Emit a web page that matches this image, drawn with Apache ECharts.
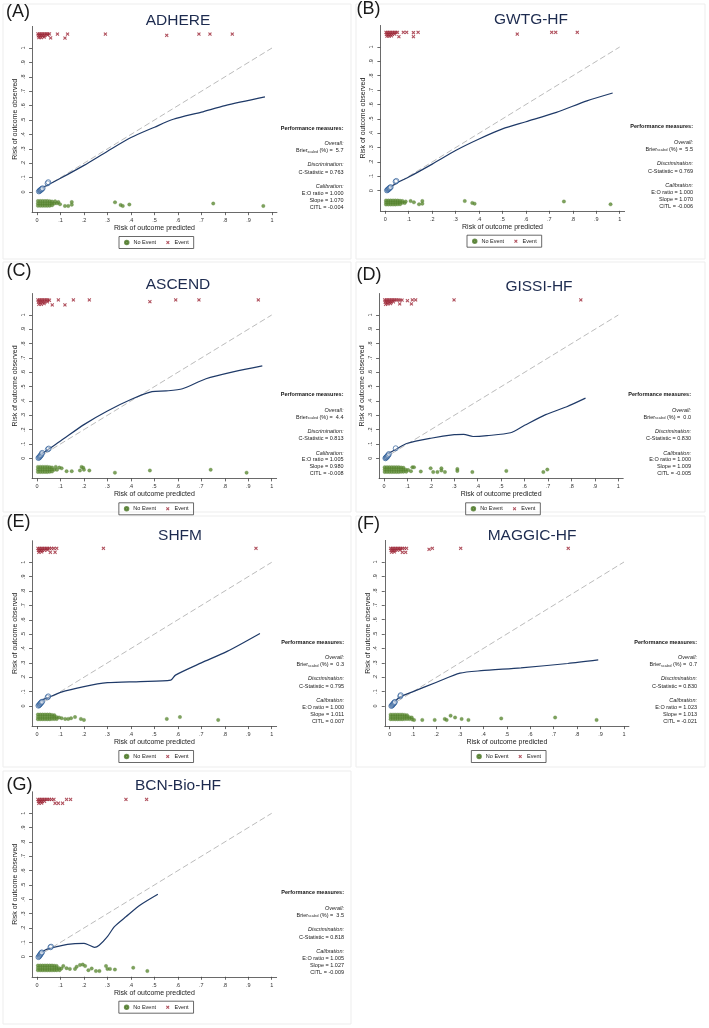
<!DOCTYPE html>
<html><head><meta charset="utf-8">
<script src="https://cdn.jsdelivr.net/npm/echarts@6/dist/echarts.min.js"></script>
<style>html,body{margin:0;padding:0;background:#fff}#c{width:709px;height:1028px}</style>
</head><body><div id="c"></div>
<script>
// ---------- data ----------
const xTickValues = [0,0.1,0.2,0.3,0.4,0.5,0.6,0.7,0.8,0.9,1];
const xTickLabels = ['0','.1','.2','.3','.4','.5','.6','.7','.8','.9','1'];
const yTickValues = [0,0.1,0.2,0.3,0.4,0.5,0.6,0.7,0.8,0.9,1];
const yTickLabels = ['0','.1','.2','.3','.4','.5','.6','.7','.8','.9','1'];
const diagonal = [[0,0],[1,1]];

const panelLetters = ['(A)','(B)','(C)','(D)','(E)','(F)','(G)'];
const panelNames = ['ADHERE','GWTG-HF','ASCEND','GISSI-HF','SHFM','MAGGIC-HF','BCN-Bio-HF'];
const brierScaled = ['5.7','5.5','4.4','0.0','0.3','0.7','3.5'];
const cStatistic = ['0.763','0.769','0.813','0.830','0.795','0.830','0.818'];
const eoRatio = ['1.000','1.000','1.005','1.000','1.000','1.023','1.005'];
const calSlope = ['1.070','1.070','0.980','1.009','1.011','1.013','1.027'];
const citl = ['-0.004','-0.006','-0.008','-0.005','0.007','-0.021','-0.009'];

// calibration curves (predicted, observed)
const adhereCurve = [[0.015,0.025],[0.05,0.052],[0.1,0.095],[0.2,0.185],[0.3,0.283],[0.4,0.378],[0.5,0.45],[0.58,0.505],[0.7,0.555],[0.8,0.6],[0.97,0.66]];
const gwtgCurve = [[0.01,0.01],[0.05,0.055],[0.1,0.095],[0.2,0.185],[0.3,0.28],[0.4,0.36],[0.5,0.43],[0.6,0.48],[0.73,0.545],[0.86,0.625],[0.97,0.68]];
const ascendCurve = [[0.01,0.02],[0.05,0.065],[0.1,0.12],[0.2,0.235],[0.3,0.33],[0.4,0.41],[0.49,0.465],[0.55,0.47],[0.62,0.485],[0.72,0.555],[0.84,0.605],[0.96,0.645]];
const gissiCurve = [[0.008,0.005],[0.015,0.03],[0.05,0.062],[0.1,0.105],[0.2,0.14],[0.3,0.165],[0.34,0.167],[0.38,0.152],[0.44,0.158],[0.54,0.178],[0.6,0.23],[0.69,0.305],[0.78,0.36],[0.86,0.42]];
const shfmCurve = [[0.006,0.007],[0.02,0.04],[0.05,0.06],[0.1,0.095],[0.2,0.135],[0.3,0.162],[0.44,0.17],[0.57,0.18],[0.59,0.215],[0.7,0.3],[0.81,0.38],[0.95,0.505]];
const maggicCurve = [[0.008,0.004],[0.02,0.03],[0.047,0.065],[0.1,0.1],[0.2,0.165],[0.3,0.228],[0.39,0.245],[0.56,0.265],[0.76,0.295],[0.89,0.32]];
const bcnCurve = [[0.005,0.0],[0.013,0.023],[0.035,0.047],[0.055,0.058],[0.13,0.086],[0.2,0.093],[0.22,0.082],[0.245,0.065],[0.265,0.08],[0.3,0.14],[0.33,0.21],[0.38,0.28],[0.44,0.36],[0.515,0.435]];

// grouped observed risk (hollow circles)
const adhereGroups = [[0.008,0.004],[0.011,0.008],[0.013,0.011],[0.015,0.014],[0.017,0.016],[0.019,0.019],[0.021,0.022],[0.024,0.026],[0.045,0.06],[0.048,0.068]];
const gwtgGroups = [[0.007,0.002],[0.01,0.006],[0.012,0.009],[0.014,0.012],[0.016,0.015],[0.018,0.018],[0.02,0.021],[0.023,0.025],[0.044,0.063],[0.047,0.068]];
const ascendGroups = [[0.006,0.002],[0.009,0.006],[0.011,0.01],[0.013,0.014],[0.015,0.018],[0.017,0.022],[0.02,0.03],[0.022,0.038],[0.046,0.062],[0.05,0.068]];
const gissiGroups = [[0.006,0.0],[0.008,0.004],[0.01,0.007],[0.012,0.01],[0.014,0.014],[0.016,0.018],[0.018,0.022],[0.021,0.03],[0.05,0.07]];
const shfmGroups = [[0.006,0.002],[0.009,0.006],[0.011,0.01],[0.013,0.014],[0.015,0.018],[0.017,0.022],[0.019,0.026],[0.022,0.03],[0.045,0.06],[0.048,0.067]];
const maggicGroups = [[0.007,0.0],[0.01,0.004],[0.012,0.008],[0.014,0.012],[0.016,0.016],[0.018,0.02],[0.02,0.024],[0.022,0.028],[0.045,0.068],[0.047,0.075]];
const bcnGroups = [[0.006,-0.003],[0.009,0.002],[0.011,0.007],[0.013,0.012],[0.015,0.017],[0.017,0.022],[0.019,0.027],[0.021,0.03],[0.057,0.066],[0.06,0.07]];

// No Event (jittered below 0)
const adhereNoEvent = [
 [0.004,-0.063],[0.014,-0.063],[0.024,-0.063],[0.034,-0.063],[0.044,-0.063],[0.054,-0.064],[0.064,-0.066],
 [0.004,-0.08],[0.014,-0.08],[0.024,-0.08],[0.034,-0.08],[0.044,-0.08],[0.054,-0.08],[0.064,-0.08],[0.074,-0.08],[0.085,-0.078],
 [0.004,-0.096],[0.014,-0.096],[0.024,-0.096],[0.034,-0.096],[0.044,-0.096],[0.054,-0.095],[0.064,-0.092],
 [0.077,-0.065],[0.091,-0.07],[0.098,-0.085],[0.119,-0.097],[0.133,-0.097],[0.148,-0.07],[0.148,-0.088],
 [0.332,-0.072],[0.356,-0.09],[0.365,-0.097],[0.393,-0.087],[0.75,-0.08],[0.963,-0.097]];
const gwtgNoEvent = [
 [0.003,-0.068],[0.013,-0.068],[0.023,-0.068],[0.033,-0.068],[0.043,-0.068],[0.053,-0.069],[0.063,-0.07],
 [0.003,-0.082],[0.013,-0.082],[0.023,-0.082],[0.033,-0.082],[0.043,-0.082],[0.053,-0.082],[0.063,-0.082],[0.073,-0.084],[0.083,-0.085],
 [0.003,-0.096],[0.013,-0.096],[0.023,-0.096],[0.033,-0.096],[0.043,-0.096],[0.053,-0.095],[0.063,-0.094],
 [0.073,-0.072],[0.087,-0.075],[0.108,-0.072],[0.122,-0.081],[0.144,-0.095],[0.158,-0.072],[0.158,-0.09],
 [0.339,-0.072],[0.371,-0.085],[0.381,-0.09],[0.762,-0.075],[0.961,-0.095]];
const ascendNoEvent = [
 [0.004,-0.06],[0.014,-0.06],[0.024,-0.06],[0.034,-0.06],[0.044,-0.06],[0.054,-0.062],[0.064,-0.064],
 [0.004,-0.078],[0.014,-0.078],[0.024,-0.078],[0.034,-0.078],[0.044,-0.078],[0.054,-0.078],[0.064,-0.078],[0.074,-0.08],[0.085,-0.08],
 [0.004,-0.095],[0.014,-0.095],[0.024,-0.095],[0.034,-0.095],[0.044,-0.095],[0.054,-0.094],[0.064,-0.092],
 [0.08,-0.06],[0.095,-0.065],[0.105,-0.07],[0.126,-0.09],[0.148,-0.09],[0.183,-0.085],[0.19,-0.06],[0.197,-0.066],[0.2,-0.08],
 [0.223,-0.085],[0.332,-0.1],[0.481,-0.085],[0.74,-0.08],[0.893,-0.1]];
const gissiNoEvent = [
 [0.003,-0.062],[0.013,-0.062],[0.023,-0.062],[0.033,-0.062],[0.043,-0.062],[0.053,-0.062],[0.063,-0.062],[0.073,-0.064],[0.083,-0.066],
 [0.003,-0.079],[0.013,-0.079],[0.023,-0.079],[0.033,-0.079],[0.043,-0.079],[0.053,-0.079],[0.063,-0.079],[0.073,-0.079],[0.083,-0.08],[0.093,-0.08],[0.103,-0.082],
 [0.003,-0.095],[0.013,-0.095],[0.023,-0.095],[0.033,-0.095],[0.043,-0.095],[0.053,-0.095],[0.063,-0.095],[0.073,-0.094],[0.083,-0.094],[0.095,-0.093],
 [0.115,-0.09],[0.121,-0.063],[0.128,-0.063],[0.157,-0.092],[0.199,-0.07],[0.21,-0.096],[0.228,-0.096],[0.245,-0.07],[0.245,-0.085],[0.26,-0.096],
 [0.313,-0.075],[0.313,-0.088],[0.377,-0.096],[0.522,-0.088],[0.68,-0.096],[0.697,-0.079]];
const shfmNoEvent = [
 [0.004,-0.06],[0.014,-0.06],[0.024,-0.06],[0.034,-0.06],[0.044,-0.06],[0.054,-0.06],[0.064,-0.062],[0.074,-0.064],
 [0.004,-0.076],[0.014,-0.076],[0.024,-0.076],[0.034,-0.076],[0.044,-0.076],[0.054,-0.076],[0.064,-0.076],[0.074,-0.076],[0.084,-0.078],[0.094,-0.08],
 [0.004,-0.092],[0.014,-0.092],[0.024,-0.092],[0.034,-0.092],[0.044,-0.092],[0.054,-0.092],[0.064,-0.091],[0.074,-0.09],[0.084,-0.09],
 [0.105,-0.085],[0.12,-0.09],[0.133,-0.09],[0.145,-0.085],[0.162,-0.077],[0.187,-0.09],[0.2,-0.097],[0.553,-0.09],[0.609,-0.077],[0.772,-0.097]];
const maggicNoEvent = [
 [0.004,-0.06],[0.014,-0.06],[0.024,-0.06],[0.034,-0.06],[0.044,-0.06],[0.054,-0.06],[0.064,-0.062],[0.074,-0.064],
 [0.004,-0.076],[0.014,-0.076],[0.024,-0.076],[0.034,-0.076],[0.044,-0.076],[0.054,-0.076],[0.064,-0.076],[0.074,-0.076],[0.084,-0.078],[0.094,-0.08],
 [0.004,-0.092],[0.014,-0.092],[0.024,-0.092],[0.034,-0.092],[0.044,-0.092],[0.054,-0.092],[0.064,-0.091],[0.074,-0.09],[0.084,-0.09],[0.096,-0.094],
 [0.104,-0.097],[0.139,-0.097],[0.192,-0.097],[0.235,-0.09],[0.243,-0.097],[0.26,-0.067],[0.279,-0.08],[0.307,-0.09],[0.336,-0.097],
 [0.476,-0.086],[0.706,-0.08],[0.883,-0.097]];
const bcnNoEvent = [
 [0.004,-0.062],[0.014,-0.062],[0.024,-0.062],[0.034,-0.062],[0.044,-0.062],[0.054,-0.062],[0.064,-0.062],[0.074,-0.063],[0.084,-0.065],
 [0.004,-0.079],[0.014,-0.079],[0.024,-0.079],[0.034,-0.079],[0.044,-0.079],[0.054,-0.079],[0.064,-0.079],[0.074,-0.079],[0.084,-0.08],[0.094,-0.08],[0.104,-0.082],
 [0.004,-0.095],[0.014,-0.095],[0.024,-0.095],[0.034,-0.095],[0.044,-0.095],[0.054,-0.095],[0.064,-0.095],[0.074,-0.094],[0.084,-0.094],[0.096,-0.094],
 [0.112,-0.065],[0.126,-0.08],[0.14,-0.085],[0.162,-0.085],[0.169,-0.07],[0.183,-0.058],[0.195,-0.055],[0.205,-0.065],[0.219,-0.094],
 [0.233,-0.082],[0.251,-0.1],[0.266,-0.1],[0.294,-0.065],[0.3,-0.085],[0.311,-0.085],[0.332,-0.09],[0.41,-0.077],[0.47,-0.1]];

// Event (jittered above 1)
const adhereEvent = [
 [0.004,1.098],[0.011,1.098],[0.018,1.098],[0.025,1.098],[0.032,1.098],[0.039,1.098],[0.046,1.098],[0.053,1.098],
 [0.006,1.085],[0.014,1.085],[0.022,1.085],[0.032,1.085],[0.045,1.09],[0.008,1.072],[0.018,1.072],[0.03,1.076],
 [0.058,1.07],[0.087,1.097],[0.13,1.097],[0.119,1.069],[0.291,1.097],[0.552,1.088],[0.689,1.097],[0.736,1.097],[0.831,1.097]];
const gwtgEvent = [
 [0.003,1.102],[0.01,1.102],[0.017,1.102],[0.024,1.102],[0.031,1.102],[0.038,1.102],[0.045,1.102],[0.052,1.102],
 [0.005,1.088],[0.013,1.088],[0.021,1.088],[0.03,1.088],[0.04,1.09],[0.007,1.075],[0.016,1.075],[0.026,1.078],
 [0.077,1.102],[0.091,1.102],[0.12,1.1],[0.14,1.102],[0.058,1.072],[0.12,1.072],[0.563,1.09],[0.71,1.102],[0.727,1.102],[0.819,1.102]];
const ascendEvent = [
 [0.004,1.105],[0.011,1.105],[0.018,1.105],[0.025,1.105],[0.032,1.105],[0.039,1.105],[0.046,1.105],[0.053,1.103],
 [0.006,1.09],[0.014,1.09],[0.022,1.09],[0.032,1.09],[0.044,1.092],[0.008,1.075],[0.018,1.075],[0.03,1.08],
 [0.065,1.07],[0.091,1.105],[0.119,1.07],[0.155,1.105],[0.223,1.105],[0.481,1.093],[0.591,1.105],[0.69,1.105],[0.943,1.105]];
const gissiEvent = [
 [0.003,1.105],[0.01,1.105],[0.017,1.105],[0.024,1.105],[0.031,1.105],[0.038,1.105],[0.045,1.105],[0.052,1.105],[0.06,1.105],[0.068,1.104],[0.077,1.104],
 [0.005,1.09],[0.013,1.09],[0.021,1.09],[0.03,1.09],[0.04,1.092],[0.007,1.075],[0.016,1.077],[0.028,1.08],
 [0.067,1.077],[0.1,1.1],[0.117,1.077],[0.121,1.105],[0.135,1.105],[0.299,1.105],[0.84,1.105]];
const shfmEvent = [
 [0.004,1.097],[0.011,1.097],[0.018,1.097],[0.025,1.097],[0.032,1.097],[0.039,1.097],[0.046,1.097],[0.053,1.097],[0.062,1.097],[0.072,1.097],[0.084,1.097],
 [0.006,1.083],[0.014,1.083],[0.022,1.083],[0.032,1.084],[0.044,1.086],[0.008,1.07],[0.02,1.072],
 [0.057,1.07],[0.077,1.07],[0.283,1.097],[0.933,1.097]];
const maggicEvent = [
 [0.004,1.095],[0.011,1.095],[0.018,1.095],[0.025,1.095],[0.032,1.095],[0.039,1.095],[0.046,1.095],[0.053,1.095],[0.062,1.095],[0.072,1.095],
 [0.006,1.081],[0.014,1.081],[0.022,1.081],[0.032,1.082],[0.044,1.084],[0.008,1.068],[0.02,1.07],
 [0.054,1.067],[0.068,1.067],[0.168,1.088],[0.182,1.095],[0.303,1.095],[0.762,1.095]];
const bcnEvent = [
 [0.004,1.097],[0.011,1.097],[0.018,1.097],[0.025,1.097],[0.032,1.097],[0.039,1.097],[0.046,1.097],[0.053,1.097],[0.062,1.097],[0.072,1.097],
 [0.006,1.083],[0.014,1.083],[0.022,1.083],[0.032,1.084],[0.008,1.07],[0.02,1.072],
 [0.077,1.07],[0.091,1.07],[0.109,1.07],[0.126,1.097],[0.143,1.097],[0.379,1.097],[0.467,1.097]];

// ---------- layout (pixels) ----------
const layout = [
 {x0:37,    ux:235,   y0:192,   uy:144,   title:[178,21],    letter:[6,12],     right:343.5},
 {x0:385.3, ux:234.4, y0:190.7, uy:143.7, title:[531,20],    letter:[356.5,9],  right:693},
 {x0:37,    ux:234.7, y0:458.3, uy:143.3, title:[178,285],   letter:[6.5,271],  right:343.5},
 {x0:384,   ux:234.3, y0:458.3, uy:143.3, title:[539,286.5], letter:[356.5,275],right:691},
 {x0:37,    ux:234.7, y0:706,   uy:143.7, title:[180,536],   letter:[6.5,522.5],right:344},
 {x0:389.7, ux:234.3, y0:706,   uy:144,   title:[532,536],   letter:[357,524],  right:697},
 {x0:37,    ux:234.7, y0:956.7, uy:143.4, title:[178,785.5], letter:[6.5,785],  right:344}
];
const frames = [[3,4,348,255],[356,4,349,255],[3,262,348,250],[356,262,349,250],[3,516,348,251],[356,516,349,251],[3,771,348,253]];

const sets = [
 [adhereCurve, adhereGroups, adhereNoEvent, adhereEvent],
 [gwtgCurve, gwtgGroups, gwtgNoEvent, gwtgEvent],
 [ascendCurve, ascendGroups, ascendNoEvent, ascendEvent],
 [gissiCurve, gissiGroups, gissiNoEvent, gissiEvent],
 [shfmCurve, shfmGroups, shfmNoEvent, shfmEvent],
 [maggicCurve, maggicGroups, maggicNoEvent, maggicEvent],
 [bcnCurve, bcnGroups, bcnNoEvent, bcnEvent]
];

const FONT = '"Liberation Sans", Arial, Helvetica, sans-serif';
const XMIN = -0.021, XMAX = 1.021, YMIN = -0.14, YMAX = 1.15;
const X_PATH = 'path://M0,2L2,0L5,3L8,0L10,2L7,5L10,8L8,10L5,7L2,10L0,8L3,5Z';
const GREEN = '#5e8b35', RED = '#9c2636', NAVY = '#1f3a68';

function fmt(vals, labels) {
  return v => { const i = vals.findIndex(t => Math.abs(t - v) < 1e-6); return i >= 0 ? labels[i] : ''; };
}

const grid = [], xAxis = [], yAxis = [], series = [], legend = [], graphic = [];
frames.forEach(f => graphic.push({type:'rect', shape:{x:f[0], y:f[1], width:f[2], height:f[3]}, style:{fill:'none', stroke:'#ededed', lineWidth:1}, z:-10, silent:true}));

layout.forEach((L, i) => {
  grid.push({left: L.x0 + XMIN * L.ux, top: L.y0 - YMAX * L.uy, width: (XMAX - XMIN) * L.ux, height: (YMAX - YMIN) * L.uy});
  xAxis.push({
    gridIndex:i, type:'value', min:XMIN, max:XMAX,
    axisLine:{show:true, onZero:false, lineStyle:{color:'#444', width:0.8}},
    axisTick:{show:true, customValues:xTickValues, length:3, lineStyle:{color:'#444', width:0.8}},
    axisLabel:{customValues:xTickValues, formatter:fmt(xTickValues, xTickLabels), fontSize:5.5, color:'#333', margin:5.5, fontFamily:FONT},
    splitLine:{show:false},
    name:'Risk of outcome predicted', nameLocation:'middle', nameGap:12.5,
    nameTextStyle:{fontSize:7, color:'#222', fontFamily:FONT}
  });
  yAxis.push({
    gridIndex:i, type:'value', min:YMIN, max:YMAX,
    axisLine:{show:true, onZero:false, lineStyle:{color:'#444', width:0.8}},
    axisTick:{show:true, customValues:yTickValues, length:3, lineStyle:{color:'#444', width:0.8}},
    axisLabel:{customValues:yTickValues, formatter:fmt(yTickValues, yTickLabels), fontSize:5.5, color:'#333', margin:6, rotate:90, fontFamily:FONT},
    splitLine:{show:false},
    name:'Risk of outcome observed', nameLocation:'middle', nameGap:13.5,
    nameTextStyle:{fontSize:7, color:'#222', fontFamily:FONT}
  });
  const s = sets[i];
  series.push({type:'line', name:'reference', xAxisIndex:i, yAxisIndex:i, data:diagonal, symbol:'none', silent:true, z:1,
    lineStyle:{color:'#bcbcbc', width:1, type:[6,3]}});
  series.push({type:'line', name:'calibration', xAxisIndex:i, yAxisIndex:i, data:s[0], symbol:'none', smooth:0.25, silent:true, z:3,
    lineStyle:{color:NAVY, width:1.2}});
  series.push({type:'scatter', name:'No Event', xAxisIndex:i, yAxisIndex:i, data:s[2], symbol:'circle', symbolSize:3.5, z:2,
    itemStyle:{color:GREEN, borderColor:'#4a7526', borderWidth:0.3}});
  series.push({type:'scatter', name:'Event', xAxisIndex:i, yAxisIndex:i, data:s[3], symbol:X_PATH, symbolSize:3.8, z:2,
    itemStyle:{color:RED}});
  series.push({type:'scatter', name:'groups', xAxisIndex:i, yAxisIndex:i, data:s[1], symbol:'circle', symbolSize:5, z:4,
    itemStyle:{color:'rgba(255,255,255,0.35)', borderColor:'#2f5f99', borderWidth:0.9}});

  legend.push({
    left: L.x0 + 0.5 * L.ux - 35.5, top: L.y0 + 44.5, orient:'horizontal',
    data:['No Event','Event'], selectedMode:false, itemWidth:3.5, itemHeight:3.5, itemGap:10,
    padding:[3,5], borderColor:'#444', borderWidth:0.8,
    textStyle:{fontSize:5.5, color:'#222', fontFamily:FONT}
  });

  graphic.push({type:'text', x:L.letter[0], y:L.letter[1], silent:true,
    style:{text:panelLetters[i], fill:'#1a1a1a', font:'18px ' + FONT, align:'left', verticalAlign:'middle', textAlign:'left', textVerticalAlign:'middle'}});
  graphic.push({type:'text', x:L.title[0], y:L.title[1], silent:true,
    style:{text:panelNames[i], fill:'#1d2b4f', font:'15.5px ' + FONT, align:'center', verticalAlign:'middle', textAlign:'center', textVerticalAlign:'middle'}});

  const r = L.right, y0 = L.y0;
  const lines = [
    {t:'Performance measures:', dy:-64, f:'bold 5.5px '},
    {t:'Overall:', dy:-48.3, f:'italic 5.5px '},
    {t:null, dy:-41.3},
    {t:'Discrimination:', dy:-27.3, f:'italic 5.5px '},
    {t:'C-Statistic = ' + cStatistic[i], dy:-19.7, f:'5.5px '},
    {t:'Calibration:', dy:-5.3, f:'italic 5.5px '},
    {t:'E:O ratio = ' + eoRatio[i], dy:1.3, f:'5.5px '},
    {t:'Slope = ' + calSlope[i], dy:8.3, f:'5.5px '},
    {t:'CITL = ' + citl[i], dy:15.3, f:'5.5px '}
  ];
  lines.forEach(ln => {
    if (ln.t === null) {
      graphic.push({type:'text', x:r, y:y0 + ln.dy, silent:true,
        style:{text:'{n|Brier}{s|scaled}{n| (%) =  ' + brierScaled[i] + '}', align:'right', verticalAlign:'middle', textAlign:'right', textVerticalAlign:'middle',
          rich:{n:{fontSize:5.5, fontFamily:FONT, fill:'#222', lineHeight:6}, s:{fontSize:3.6, fontFamily:FONT, fill:'#222', lineHeight:4, verticalAlign:'bottom'}}}});
    } else {
      graphic.push({type:'text', x:r, y:y0 + ln.dy, silent:true,
        style:{text:ln.t, fill: ln.f.indexOf('bold') >= 0 ? '#111' : '#222', font:ln.f + FONT, align:'right', verticalAlign:'middle', textAlign:'right', textVerticalAlign:'middle'}});
    }
  });
});

const chart = echarts.init(document.getElementById('c'), null, {renderer:'canvas'});
chart.setOption({backgroundColor:'#ffffff', animation:false, grid, xAxis, yAxis, series, legend, graphic});
</script></body></html>
